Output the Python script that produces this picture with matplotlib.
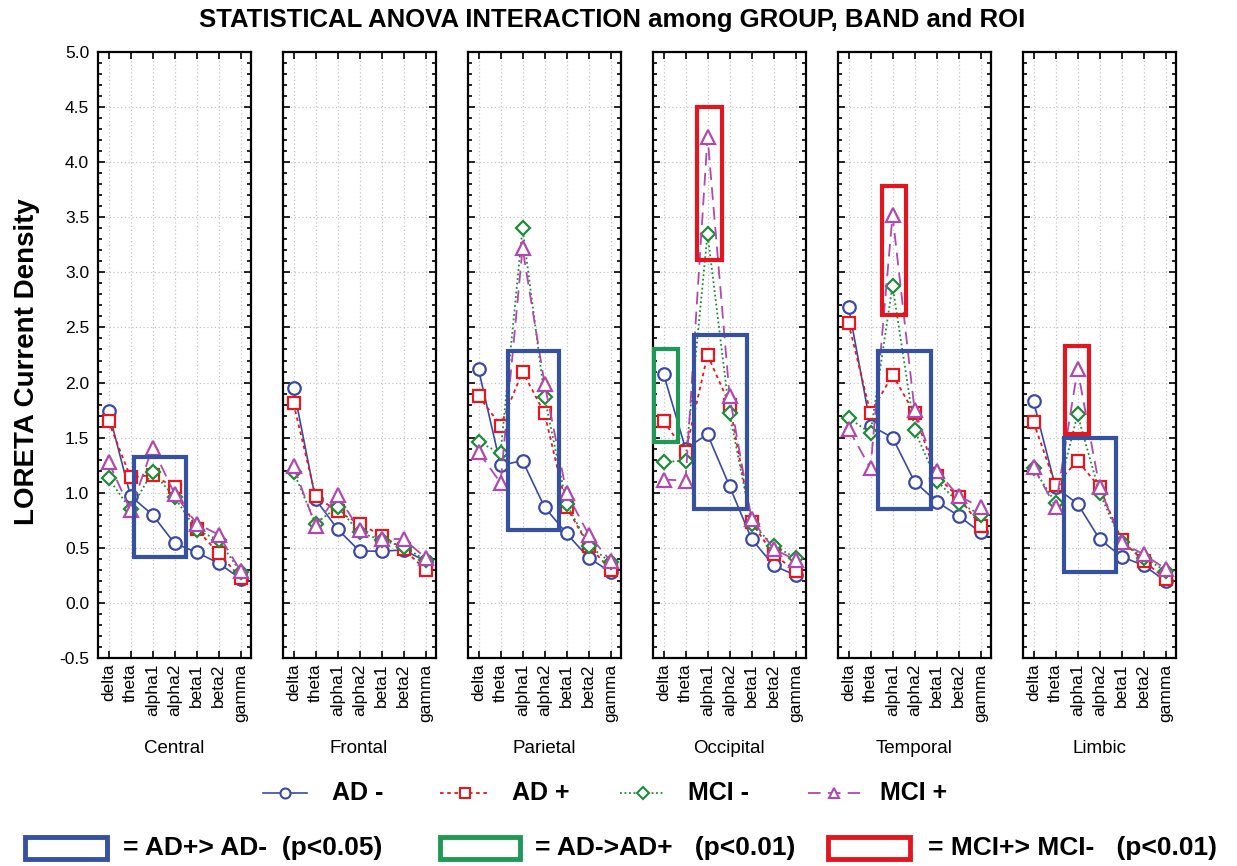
import matplotlib
matplotlib.use('Agg')
import matplotlib.pyplot as plt
from matplotlib.lines import Line2D
from matplotlib.patches import Rectangle
from matplotlib.ticker import MultipleLocator, FormatStrFormatter

plt.rcParams['font.family'] = ['Liberation Sans', 'DejaVu Sans']
plt.rcParams['axes.unicode_minus'] = False

bands = ['delta', 'theta', 'alpha1', 'alpha2', 'beta1', 'beta2', 'gamma']
regions = ['Central', 'Frontal', 'Parietal', 'Occipital', 'Temporal', 'Limbic']
group_names = ['AD -', 'AD +', 'MCI -', 'MCI +']

# values per region (rows) and band (columns)
ad_minus = [
    [1.74, 0.97, 0.80, 0.54, 0.46, 0.36, 0.22],
    [1.95, 0.94, 0.67, 0.47, 0.47, 0.48, 0.38],
    [2.12, 1.25, 1.29, 0.87, 0.63, 0.41, 0.28],
    [2.08, 1.40, 1.53, 1.06, 0.58, 0.34, 0.25],
    [2.69, 1.61, 1.50, 1.10, 0.92, 0.79, 0.64],
    [1.83, 1.05, 0.90, 0.58, 0.42, 0.34, 0.20],
]
ad_plus = [
    [1.65, 1.14, 1.16, 1.05, 0.67, 0.45, 0.23],
    [1.81, 0.97, 0.83, 0.72, 0.61, 0.49, 0.30],
    [1.88, 1.61, 2.10, 1.72, 0.87, 0.52, 0.30],
    [1.65, 1.37, 2.25, 1.80, 0.73, 0.44, 0.29],
    [2.54, 1.72, 2.07, 1.72, 1.15, 0.96, 0.70],
    [1.64, 1.07, 1.29, 1.05, 0.57, 0.38, 0.22],
]
mci_minus = [
    [1.13, 0.85, 1.19, 0.96, 0.66, 0.57, 0.28],
    [1.19, 0.72, 0.87, 0.64, 0.57, 0.51, 0.39],
    [1.46, 1.36, 3.40, 1.87, 0.90, 0.52, 0.37],
    [1.28, 1.29, 3.35, 1.72, 0.72, 0.52, 0.41],
    [1.68, 1.54, 2.88, 1.57, 1.11, 0.91, 0.80],
    [1.22, 0.91, 1.71, 1.00, 0.55, 0.41, 0.29],
]
mci_plus = [
    [1.28, 0.84, 1.41, 0.99, 0.72, 0.62, 0.29],
    [1.24, 0.70, 0.98, 0.66, 0.58, 0.58, 0.41],
    [1.37, 1.09, 3.22, 1.99, 1.00, 0.62, 0.38],
    [1.12, 1.11, 4.23, 1.88, 0.76, 0.49, 0.39],
    [1.58, 1.22, 3.52, 1.75, 1.20, 0.97, 0.87],
    [1.23, 0.87, 2.12, 1.05, 0.55, 0.44, 0.31],
]

# significance boxes: (region index, band-from, band-to, value-low, value-high)
boxes_ad_plus_gt_ad_minus = [
    (0, 1.18, 3.53, 0.42, 1.32),
    (2, 1.32, 3.66, 0.66, 2.29),
    (3, 1.39, 3.79, 0.85, 2.43),
    (4, 1.35, 3.73, 0.85, 2.29),
    (5, 1.38, 3.76, 0.28, 1.50),
]
boxes_ad_minus_gt_ad_plus = [
    (3, -0.45, 0.68, 1.46, 2.30),
]
boxes_mci_plus_gt_mci_minus = [
    (3, 1.50, 2.65, 3.11, 4.50),
    (4, 1.50, 2.60, 2.61, 3.78),
    (5, 1.44, 2.51, 1.53, 2.33),
]

series = [ad_minus, ad_plus, mci_minus, mci_plus]
styles = [
    dict(color='#3a4aa3', marker='o', ms=9, ls='-', lw=1.2),
    dict(color='#e8161e', marker='s', ms=9, ls=(0, (2, 2)), lw=1.3),
    dict(color='#1f8a3a', marker='D', ms=7.5, ls=(0, (1, 1.5)), lw=1.3),
    dict(color='#b048ae', marker='^', ms=9.5, ls=(0, (7, 4)), lw=1.3),
]
box_colors = ['#3650a2', '#1f9955', '#e3161f']

W, H = 1237, 866
fig = plt.figure(figsize=(W / 100, H / 100), dpi=100)

def fx(px):
    return px / W

def fy(py):
    return 1 - py / H

x = list(range(len(bands)))
axes = []
for i, reg in enumerate(regions):
    left = 97.5 + i * 185
    ax = fig.add_axes([fx(left), fy(658), fx(153), 606 / H])
    axes.append(ax)
    for s, st in zip(series, styles):
        ax.plot(x, s[i], color=st['color'], ls=st['ls'], lw=st['lw'],
                marker=st['marker'], ms=st['ms'], mfc='white',
                mec=st['color'], mew=1.6, zorder=3)
    ax.set_xlim(-0.5, 6.45)
    ax.set_ylim(-0.5, 5.0)
    ax.yaxis.set_major_locator(MultipleLocator(0.5))
    ax.yaxis.set_minor_locator(MultipleLocator(0.1))
    ax.set_xticks(x)
    ax.set_xticklabels(bands, rotation=90, fontsize=12.5)
    ax.grid(True, which='major', color='#c4c4c4', ls=(0, (1, 2)), lw=0.9)
    ax.tick_params(axis='both', which='both', direction='in', top=True,
                   right=True, width=1.2)
    ax.tick_params(axis='both', which='major', length=5)
    ax.tick_params(axis='y', which='minor', length=3)
    ax.tick_params(axis='x', pad=4)
    for sp in ax.spines.values():
        sp.set_linewidth(1.6)
    if i == 0:
        ax.yaxis.set_major_formatter(FormatStrFormatter('%.1f'))
        ax.tick_params(axis='y', labelsize=12.5, pad=6)
    else:
        ax.tick_params(axis='y', labelleft=False)
    ax.set_xlabel(reg, fontsize=13.5, labelpad=13)

for boxes, col in zip([boxes_ad_plus_gt_ad_minus, boxes_ad_minus_gt_ad_plus,
                       boxes_mci_plus_gt_mci_minus], box_colors):
    for (ri, x0, x1, y0, y1) in boxes:
        axes[ri].add_patch(Rectangle((x0, y0), x1 - x0, y1 - y0, fill=False,
                                     edgecolor=col, lw=3, zorder=5,
                                     clip_on=False))

fig.text(fx(612), fy(20), 'STATISTICAL ANOVA INTERACTION among GROUP, BAND and ROI',
         ha='center', va='center', fontsize=18.5, fontweight='bold')
fig.text(fx(27), fy(362), 'LORETA Current Density', rotation=90,
         ha='center', va='center', fontsize=20, fontweight='bold')

# legend row 1
leg_handles_px = [(263, 307, 332), (440, 490, 512), (620, 665, 688), (808, 860, 880)]
for (h0, h1, tx), st, name in zip(leg_handles_px, styles, group_names):
    ln = Line2D([fx(h0), fx((h0 + h1) / 2), fx(h1)], [fy(793)] * 3,
                transform=fig.transFigure, color=st['color'], ls=st['ls'],
                lw=st['lw'], marker=st['marker'], ms=st['ms'] * 0.8,
                mfc='white', mec=st['color'], mew=1.5, markevery=[1])
    fig.add_artist(ln)
    fig.text(fx(tx), fy(793), name, ha='left', va='center', fontsize=18,
             fontweight='bold')

# legend row 2
leg2 = [(25, 107, 123, '= AD+> AD-  (p<0.05)'),
        (440, 520, 535, '= AD->AD+   (p<0.01)'),
        (828, 910, 928, '= MCI+> MCI-   (p<0.01)')]
for (r0, r1, tx, label), col in zip(leg2, box_colors):
    fig.add_artist(Rectangle((fx(r0), fy(859)), fx(r1 - r0), 22 / H,
                             transform=fig.transFigure, fill=False,
                             edgecolor=col, lw=3.5))
    fig.text(fx(tx), fy(848), label, ha='left', va='center', fontsize=19,
             fontweight='bold')

fig.savefig('out.png', dpi=100)
